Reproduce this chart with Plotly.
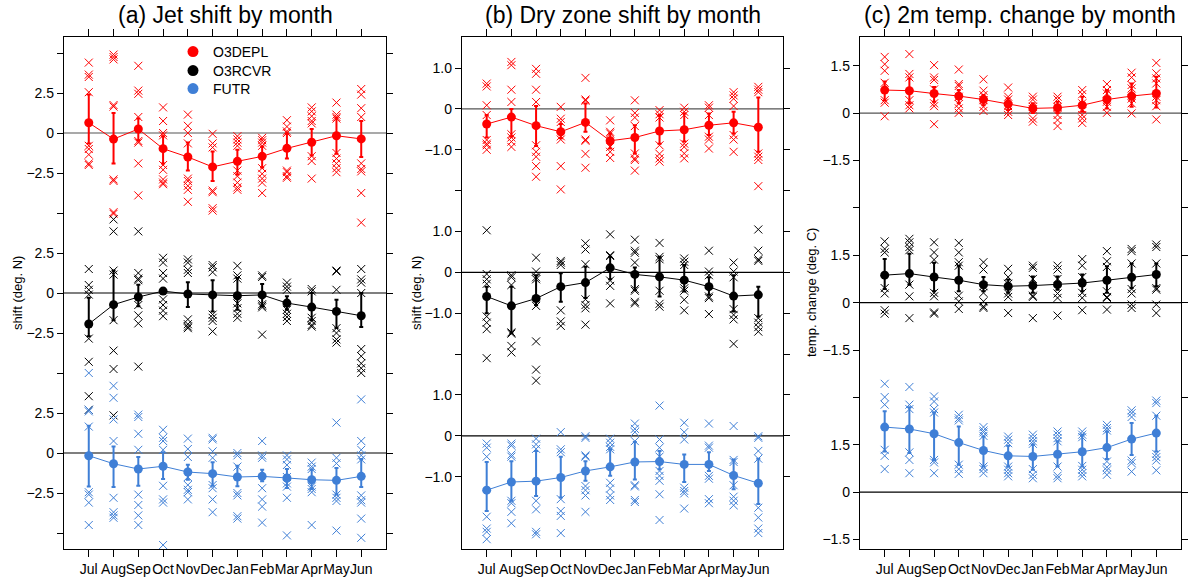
import plotly.graph_objects as go

MONTHS = ["Jul", "Aug", "Sep", "Oct", "Nov", "Dec", "Jan", "Feb", "Mar", "Apr", "May", "Jun"]
SERIES = ["O3DEPL", "O3RCVR", "FUTR"]
COLORS = {"O3DEPL": "#ff0000", "O3RCVR": "#000000", "FUTR": "#3f7fd6"}

# ---------------- (a) Jet shift (deg. N) ----------------
JET_O3DEPL_MEMBERS = [
    [4.4, 3.65, 3.5, 2.55, -0.8, -1.0, -1.35, -1.9, -2.0],
    [4.9, 4.75, 4.6, 1.75, 1.65, -2.9, -3.0, -4.95, -5.05],
    [4.2, 2.65, 2.45, 1.0, -0.5, -0.6, -1.9, -3.9],
    [1.6, 0.75, 0.0, -0.15, -2.0, -2.3, -2.9, -3.1, -3.2],
    [1.15, 0.45, 0.0, -0.65, -2.85, -3.0, -3.3, -3.55, -4.3],
    [-0.05, -0.65, -0.9, -3.6, -3.7, -4.7, -4.85],
    [-0.2, -0.4, -0.6, -0.8, -2.35, -2.7, -3.1, -3.4, -3.55],
    [-0.3, -0.45, -0.6, -0.8, -2.2, -2.55, -2.85, -3.1, -3.75],
    [0.8, 0.4, 0.1, 0.0, -2.35, -2.45, -2.7, -2.8],
    [1.6, 1.35, 1.05, 0.75, 0.6, -1.45, -1.75, -2.85],
    [1.9, 1.15, 1.0, 0.9, -1.25, -1.6, -1.9, -2.2, -2.45],
    [2.75, 2.4, 1.55, 1.0, -1.9, -2.25, -2.4, -3.75, -5.6],
]
JET_O3DEPL_MEAN = [0.64, -0.38, 0.25, -0.98, -1.5, -2.12, -1.77, -1.46, -0.96, -0.58, -0.17, -0.37]
JET_O3DEPL_HI = [2.4, 1.25, 0.9, -0.2, -0.6, -1.15, -1.05, -0.85, -0.05, 0.25, 0.95, 0.75]
JET_O3DEPL_LO = [-0.65, -1.9, -0.45, -1.9, -2.35, -3.0, -2.6, -2.15, -1.6, -1.4, -1.3, -1.5]

JET_O3RCVR_MEMBERS = [
    [1.5, 0.5, 0.2, -0.1, -2.85, -4.3, -6.45, -7.3],
    [4.6, 3.85, 1.4, 1.15, -1.7, -3.6, -4.75, -7.65],
    [3.85, 1.25, 0.9, 0.8, -0.75, -1.4, -1.9, -4.6],
    [2.2, 1.9, 1.25, 0.9, -0.4, -0.75, -1.1, -1.45],
    [2.1, 1.9, 1.45, 1.25, -1.65, -1.95, -2.1, -2.2],
    [1.75, 1.6, 1.3, -1.35, -1.55, -1.75, -2.4],
    [1.7, 1.1, 0.9, -0.65, -0.95, -1.3, -1.55],
    [1.1, 1.0, -0.7, -0.8, -0.9, -2.6],
    [0.65, 0.4, 0.2, -1.05, -1.3, -1.5, -1.75],
    [0.25, 0.1, -1.55, -1.75, -2.0, -2.1],
    [1.4, 1.35, 0.2, -2.2, -2.5, -2.9, -3.1],
    [1.5, 0.85, 0.65, 0.0, -3.5, -3.95, -4.4, -4.7, -5.0],
]
JET_O3RCVR_MEAN = [-1.94, -0.73, -0.25, 0.12, -0.06, -0.12, -0.17, -0.12, -0.63, -0.88, -1.15, -1.42]
JET_O3RCVR_HI = [-0.3, 1.4, 0.52, 0.3, 0.67, 0.79, 0.94, 0.56, -0.2, 0.0, -0.42, 0.0]
JET_O3RCVR_LO = [-2.7, -1.7, -0.83, 0.0, -0.88, -1.15, -1.04, -0.83, -1.04, -1.7, -2.19, -2.13]

JET_FUTR_MEMBERS = [
    [5.0, 2.7, 2.6, 1.65, -2.45, -2.6, -3.1, -4.5],
    [4.2, 3.45, 2.1, 0.75, -2.8, -3.7, -3.9, -4.05],
    [2.4, 2.25, 1.2, 0.2, -2.6, -3.25, -3.9, -4.5],
    [1.45, 0.95, 0.75, 0.2, -2.05, -2.9, -3.1, -5.75],
    [0.9, 0.25, -0.25, -1.5, -2.0, -2.3, -2.45, -2.9],
    [0.95, 0.85, 0.1, -0.3, -2.0, -2.2, -2.9, -3.7],
    [0.0, -0.15, -0.85, -2.5, -2.65, -3.95, -4.1],
    [0.75, -0.15, -0.3, -2.2, -2.9, -3.35, -4.35],
    [-0.15, -0.4, -0.75, -1.5, -1.9, -2.1, -2.8, -5.15],
    [-0.6, -0.85, -1.0, -2.1, -2.25, -2.45, -4.5],
    [1.9, -0.3, -0.65, -2.6, -2.8, -3.0, -4.85],
    [3.35, 0.75, 0.2, -0.15, -0.4, -2.65, -2.95, -3.1, -4.1, -5.3],
]
JET_FUTR_MEAN = [-0.17, -0.67, -1.0, -0.83, -1.19, -1.29, -1.5, -1.46, -1.56, -1.67, -1.71, -1.46]
JET_FUTR_HI = [1.7, 0.4, -0.25, 0.05, -0.73, -0.58, -0.79, -1.04, -1.0, -1.04, -0.94, -0.37]
JET_FUTR_LO = [-2.1, -2.12, -2.04, -1.63, -1.67, -2.04, -2.08, -1.77, -2.19, -2.25, -2.6, -2.12]

# ---------------- (b) Dry zone shift (deg. N) ----------------
DRY_O3DEPL_MEMBERS = [
    [0.62, 0.55, 0.09, -0.15, -0.76, -0.85, -0.89, -1.0],
    [1.15, 1.07, 0.47, 0.17, -0.62, -0.7, -0.8, -0.93],
    [0.98, 0.86, 0.47, 0.17, -0.89, -1.05, -1.17, -1.4, -1.66],
    [0.05, -0.24, -0.32, -0.67, -0.75, -1.4, -1.97],
    [0.76, 0.23, 0.2, -0.75, -0.78, -1.1, -1.44],
    [-0.28, -0.56, -0.6, -0.93, -1.05, -1.2],
    [0.21, -0.1, -0.21, -0.42, -1.09, -1.21, -1.25, -1.51],
    [-0.03, -0.13, -0.21, -0.89, -1.1, -1.21, -1.29],
    [0.03, -0.07, -0.15, -0.85, -0.93, -1.09, -1.21],
    [0.09, 0.03, -0.15, -0.68, -0.75, -0.97],
    [0.41, 0.33, 0.25, 0.07, -0.64, -0.75, -1.05],
    [0.54, 0.47, 0.41, -1.09, -1.17, -1.25, -1.89],
]
DRY_O3DEPL_MEAN = [-0.37, -0.2, -0.41, -0.56, -0.33, -0.78, -0.7, -0.54, -0.51, -0.4, -0.34, -0.45]
DRY_O3DEPL_HI = [-0.15, 0.0, 0.07, -0.37, 0.13, -0.6, -0.4, -0.15, -0.11, -0.11, -0.07, 0.28]
DRY_O3DEPL_LO = [-0.7, -0.68, -0.91, -0.72, -0.56, -0.97, -1.09, -0.85, -0.8, -0.64, -0.6, -1.05]

DRY_O3RCVR_MEMBERS = [
    [1.03, -0.04, -0.17, -0.28, -1.08, -1.23, -1.39, -2.1],
    [-0.07, -0.12, -0.31, -1.47, -1.5, -1.8, -1.96],
    [0.36, 0.02, -0.12, -0.17, -0.82, -1.69, -2.38, -2.65],
    [0.28, 0.24, 0.18, -0.93, -1.2, -1.31],
    [0.71, 0.56, 0.2, -0.66, -0.8, -0.88, -1.28],
    [0.93, 0.42, 0.4, -0.2, -0.33, -0.76],
    [0.8, 0.53, 0.48, 0.24, -0.41, -0.45, -0.72, -0.76],
    [0.72, 0.38, 0.32, -0.45, -0.77, -0.84],
    [0.34, 0.26, 0.18, -0.39, -0.45, -0.67, -0.93],
    [0.53, 0.02, -0.07, -0.59, -0.63, -1.02],
    [0.24, 0.02, -0.12, -0.9, -1.04, -1.15, -1.75],
    [1.05, 0.53, 0.32, 0.28, -1.12, -1.23, -1.34, -1.45],
]
DRY_O3RCVR_MEAN = [-0.59, -0.82, -0.64, -0.35, -0.25, 0.11, -0.05, -0.11, -0.19, -0.35, -0.58, -0.55]
DRY_O3RCVR_HI = [-0.35, -0.35, -0.07, -0.02, 0.14, 0.38, 0.12, 0.38, 0.18, -0.12, -0.07, -0.35]
DRY_O3RCVR_LO = [-1.0, -1.49, -0.8, -0.72, -0.63, -0.17, -0.43, -0.59, -0.47, -0.55, -0.96, -1.08]

DRY_FUTR_MEMBERS = [
    [-0.19, -0.29, -0.51, -1.98, -2.27, -2.35, -2.53],
    [-0.19, -0.24, -0.46, -0.51, -1.59, -1.65, -1.86, -2.14],
    [-0.07, -0.21, -0.32, -1.59, -1.8, -2.35, -2.41],
    [0.09, -0.33, -0.4, -1.55, -1.84, -1.96, -2.38],
    [-0.01, -0.05, -0.48, -0.51, -1.23, -1.33, -1.46, -1.86],
    [-0.07, -0.17, -0.27, -0.33, -1.15, -1.29, -1.46, -1.57],
    [0.3, 0.17, 0.09, -0.13, -1.21, -1.24, -1.57, -1.62],
    [0.74, -0.09, -0.29, -0.51, -0.86, -0.98, -1.1, -1.43, -2.06],
    [0.32, 0.09, -0.09, -1.27, -1.35, -1.41, -1.78],
    [0.3, -0.24, -0.29, -0.98, -1.05, -1.55, -1.65],
    [0.24, -0.59, -0.64, -1.21, -1.49, -1.59, -1.7],
    [-0.01, -0.05, -0.37, -0.56, -1.76, -2.0, -2.27, -2.38],
]
DRY_FUTR_MEAN = [-1.33, -1.13, -1.11, -1.02, -0.86, -0.76, -0.64, -0.63, -0.7, -0.7, -0.97, -1.16]
DRY_FUTR_HI = [-0.64, -0.62, -0.37, -0.51, -0.62, -0.33, -0.15, -0.37, -0.46, -0.4, -0.58, -0.56]
DRY_FUTR_LO = [-1.84, -1.59, -1.47, -1.51, -1.1, -0.98, -1.07, -0.82, -1.13, -0.86, -1.31, -1.67]

# ---------------- (c) 2m temperature change (deg. C) ----------------
TEMP_O3DEPL_MEMBERS = [
    [1.78, 1.55, 1.34, 0.96, 0.41, 0.33, -0.1],
    [1.87, 1.24, 1.13, 0.41, 0.25, 0.15],
    [1.52, 1.13, 1.05, 0.75, 0.31, 0.22, -0.35],
    [1.38, 0.92, 0.86, 0.52, 0.29, 0.15, 0.01],
    [1.07, 0.71, 0.57, 0.41, 0.2, 0.07],
    [0.81, 0.52, 0.43, 0.22, 0.04, -0.06],
    [0.52, 0.43, 0.2, 0.12, -0.17, -0.27],
    [0.52, 0.43, 0.2, -0.06, -0.22, -0.41],
    [0.73, 0.6, 0.31, 0.12, -0.06, -0.17, -0.31],
    [0.92, 0.73, 0.62, 0.36, 0.2, 0.01],
    [1.28, 1.13, 0.89, 0.78, 0.46, 0.31, -0.01],
    [1.59, 1.26, 1.1, 0.94, 0.52, 0.41, 0.22, -0.2],
]
TEMP_O3DEPL_MEAN = [0.73, 0.71, 0.62, 0.54, 0.43, 0.29, 0.15, 0.17, 0.25, 0.43, 0.54, 0.62]
TEMP_O3DEPL_HI = [1.0, 1.1, 0.83, 0.73, 0.57, 0.46, 0.31, 0.36, 0.52, 0.73, 0.94, 1.15]
TEMP_O3DEPL_LO = [0.4, 0.31, 0.36, 0.31, 0.25, 0.1, 0.0, 0.0, 0.04, 0.15, 0.2, 0.18]

TEMP_O3RCVR_MEMBERS = [
    [1.94, 1.7, 1.59, 0.46, 0.29, -0.24, -0.35],
    [2.02, 1.91, 1.76, 1.66, 0.57, 0.2, -0.49],
    [1.91, 1.59, 1.36, 0.31, 0.2, -0.31, -0.35],
    [1.89, 1.59, 1.28, 1.17, 0.22, 0.04, -0.2],
    [1.28, 1.05, 0.52, 0.31, 0.04, -0.12, -0.17],
    [1.07, 0.81, 0.6, 0.29, 0.18, -0.33],
    [1.17, 1.1, 0.75, 0.22, 0.18, -0.49],
    [1.17, 1.05, 0.75, 0.29, 0.15, -0.41],
    [1.38, 1.17, 0.81, 0.31, 0.15, -0.24],
    [1.63, 1.31, 1.13, 0.36, 0.18, 0.15, -0.22],
    [1.7, 1.63, 1.24, 0.43, 0.29, -0.06, -0.17],
    [1.84, 1.76, 1.24, 0.46, 0.41, -0.06, -0.33],
]
TEMP_O3RCVR_MEAN = [0.87, 0.92, 0.81, 0.71, 0.57, 0.52, 0.54, 0.57, 0.62, 0.71, 0.8, 0.89]
TEMP_O3RCVR_HI = [1.38, 1.55, 1.26, 1.17, 0.81, 0.73, 0.83, 0.83, 0.89, 1.15, 1.24, 1.24]
TEMP_O3RCVR_LO = [0.43, 0.57, 0.36, 0.36, 0.36, 0.31, 0.31, 0.41, 0.36, 0.31, 0.46, 0.52]

TEMP_FUTR_MEMBERS = [
    [3.43, 3.01, 2.77, 1.34, 1.15, 0.73],
    [3.33, 2.77, 2.63, 1.26, 1.02, 0.6],
    [3.03, 2.87, 2.63, 2.52, 1.02, 0.94, 0.6],
    [2.45, 2.34, 2.27, 0.87, 0.73, 0.58],
    [2.06, 1.95, 1.89, 1.78, 0.81, 0.73, 0.6],
    [1.76, 1.66, 1.55, 0.81, 0.71, 0.6, 0.5],
    [1.82, 1.71, 1.61, 1.53, 0.73, 0.55, 0.44],
    [1.92, 1.82, 1.71, 1.61, 0.81, 0.52, 0.44],
    [1.92, 1.82, 1.74, 0.83, 0.71, 0.6, 0.5],
    [2.13, 2.03, 1.95, 0.97, 0.79, 0.69, 0.55],
    [2.59, 2.5, 2.38, 1.0, 0.92, 0.65],
    [2.9, 2.82, 2.42, 1.21, 1.11, 1.0, 0.69],
]
TEMP_FUTR_MEAN = [2.06, 2.0, 1.85, 1.57, 1.32, 1.15, 1.13, 1.2, 1.28, 1.41, 1.68, 1.87]
TEMP_FUTR_HI = [2.56, 2.69, 2.52, 2.08, 1.76, 1.47, 1.5, 1.61, 1.82, 1.92, 2.19, 2.42]
TEMP_FUTR_LO = [1.29, 1.24, 1.02, 0.87, 0.81, 0.81, 0.71, 0.81, 0.81, 1.05, 1.18, 1.29]

# Block ticks (values within a block)
JET_TICKS = [2.5, 0, -2.5]
DRY_TICKS = [1.0, 0, -1.0]
TEMP_TICKS = [1.5, 0, -1.5]

W, H = 1190, 581
FONT = "Liberation Sans, Arial, Helvetica, sans-serif"


def fmt(v, nd):
    if v == 0:
        return "0"
    s = f"{abs(v):.{nd}f}"
    return ("\u2212" + s) if v < 0 else s


PANELS = [
    dict(title="(a) Jet shift by month", ytitle="shift (deg. N)", px=(64, 386), step=10.0,
         yrange=[-16, 16], ticks=JET_TICKS, nd=1, extra=[15, 5, -5, -15],
         data={"O3DEPL": (JET_O3DEPL_MEMBERS, JET_O3DEPL_MEAN, JET_O3DEPL_LO, JET_O3DEPL_HI),
               "O3RCVR": (JET_O3RCVR_MEMBERS, JET_O3RCVR_MEAN, JET_O3RCVR_LO, JET_O3RCVR_HI),
               "FUTR": (JET_FUTR_MEMBERS, JET_FUTR_MEAN, JET_FUTR_LO, JET_FUTR_HI)}),
    dict(title="(b) Dry zone shift by month", ytitle="shift (deg. N)", px=(462, 783), step=4.0,
         yrange=[-6.77, 5.76], ticks=DRY_TICKS, nd=1, extra=[2, -2],
         data={"O3DEPL": (DRY_O3DEPL_MEMBERS, DRY_O3DEPL_MEAN, DRY_O3DEPL_LO, DRY_O3DEPL_HI),
               "O3RCVR": (DRY_O3RCVR_MEMBERS, DRY_O3RCVR_MEAN, DRY_O3RCVR_LO, DRY_O3RCVR_HI),
               "FUTR": (DRY_FUTR_MEMBERS, DRY_FUTR_MEAN, DRY_FUTR_LO, DRY_FUTR_HI)}),
    dict(title="(c) 2m temp. change by month", ytitle="temp. change (deg. C)", px=(860, 1181), step=6.0,
         yrange=[-7.8, 8.41], ticks=TEMP_TICKS, nd=1, extra=[3, -3],
         data={"O3DEPL": (TEMP_O3DEPL_MEMBERS, TEMP_O3DEPL_MEAN, TEMP_O3DEPL_LO, TEMP_O3DEPL_HI),
               "O3RCVR": (TEMP_O3RCVR_MEMBERS, TEMP_O3RCVR_MEAN, TEMP_O3RCVR_LO, TEMP_O3RCVR_HI),
               "FUTR": (TEMP_FUTR_MEMBERS, TEMP_FUTR_MEAN, TEMP_FUTR_LO, TEMP_FUTR_HI)}),
]

PLOT_TOP, PLOT_BOTTOM = 37, 549
LEGEND_ROWS = {"O3DEPL": 52, "O3RCVR": 71, "FUTR": 89}
LEGEND_NAMES = {"O3DEPL": "legend", "O3RCVR": "legend2", "FUTR": "legend3"}

fig = go.Figure()
layout = dict(
    width=W, height=H, margin=dict(l=0, r=0, t=0, b=0),
    paper_bgcolor="white", plot_bgcolor="white",
    font=dict(family=FONT, size=14, color="black"),
    showlegend=True,
)
for s in SERIES:
    layout[LEGEND_NAMES[s]] = dict(x=173 / W, y=1 - LEGEND_ROWS[s] / H, xanchor="left", yanchor="middle",
                                   bgcolor="rgba(0,0,0,0)", font=dict(size=14), itemwidth=30)
annotations = []
shapes = []

for p_i, P in enumerate(PANELS):
    sfx = "" if p_i == 0 else str(p_i + 1)
    xa, ya = "x" + sfx, "y" + sfx
    offsets = {"O3DEPL": P["step"], "O3RCVR": 0.0, "FUTR": -P["step"]}

    tickvals, ticktext = [], []
    for s in SERIES:
        for t in P["ticks"]:
            tickvals.append(t + offsets[s])
            ticktext.append(fmt(t, P["nd"]))
    for e in P["extra"]:
        tickvals.append(e)
        ticktext.append("")

    axis_common = dict(showline=True, linecolor="black", linewidth=1.3, mirror="ticks",
                       ticks="outside", tickcolor="black", tickwidth=1.2,
                       showgrid=False, zeroline=False)
    layout["xaxis" + sfx] = dict(
        domain=[P["px"][0] / W, P["px"][1] / W], anchor=ya,
        type="category", categoryorder="array", categoryarray=MONTHS,
        range=[-1, 12], tickvals=MONTHS, ticklen=7, tickangle=0, tickfont=dict(size=14),
        **axis_common)
    layout["yaxis" + sfx] = dict(
        domain=[1 - PLOT_BOTTOM / H, 1 - PLOT_TOP / H], anchor=xa,
        range=P["yrange"], tickmode="array", tickvals=tickvals, ticktext=ticktext,
        ticklen=6, tickfont=dict(size=14), **axis_common)

    # zero lines for each stacked block
    for s in SERIES:
        shapes.append(dict(type="line", xref=xa + " domain", yref=ya, x0=0, x1=1,
                           y0=offsets[s], y1=offsets[s], layer="below",
                           line=dict(color="#555555" if s == "O3DEPL" else "black", width=1.2)))

    for s in SERIES:
        members, mean, lo, hi = P["data"][s]
        off = offsets[s]
        color = COLORS[s]
        xs, ys = [], []
        for m, vals in zip(MONTHS, members):
            for v in vals:
                xs.append(m)
                ys.append(v + off)
        fig.add_trace(go.Scatter(
            x=xs, y=ys, mode="markers", xaxis=xa, yaxis=ya, showlegend=False,
            marker=dict(symbol="x-thin-open", size=8, color=color, line=dict(width=1, color=color)),
            hoverinfo="skip"))
        fig.add_trace(go.Scatter(
            x=MONTHS, y=[v + off for v in mean], mode="lines+markers", xaxis=xa, yaxis=ya,
            showlegend=False, line=dict(color=color, width=1),
            marker=dict(symbol="circle", size=9, color=color),
            error_y=dict(type="data", symmetric=False,
                         array=[h - m for h, m in zip(hi, mean)],
                         arrayminus=[m - l for m, l in zip(mean, lo)],
                         color=color, thickness=2, width=2)))

    annotations.append(dict(text=P["title"], x=(P["px"][0] + P["px"][1]) / 2 / W, y=1 - 15 / H,
                            xref="paper", yref="paper", showarrow=False,
                            xanchor="center", yanchor="middle", font=dict(size=23)))
    ytx = {0: 17, 1: 416, 2: 811}[p_i]
    annotations.append(dict(text=P["ytitle"], x=ytx / W, y=1 - 293 / H, xref="paper", yref="paper",
                            showarrow=False, textangle=-90, xanchor="center", yanchor="middle",
                            font=dict(size=13)))

# legend entries (one small legend per series, stacked like the reference)
for s in SERIES:
    fig.add_trace(go.Scatter(x=[None], y=[None], mode="markers", name=s, legend=LEGEND_NAMES[s],
                             marker=dict(symbol="circle", size=11, color=COLORS[s]),
                             xaxis="x", yaxis="y", showlegend=True))

layout["annotations"] = annotations
layout["shapes"] = shapes
fig.update_layout(**layout)
fig.write_html("out.html", config={"displayModeBar": False},
               post_script="document.body.style.margin='0';document.body.style.padding='0';")
